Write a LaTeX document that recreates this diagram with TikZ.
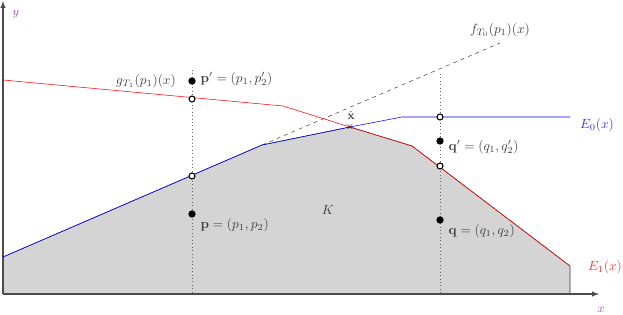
\documentclass[tikz,border=0pt]{standalone}
\usepackage{amsmath,amssymb}
\usepackage{tikz}
\newdimen\unitsize
\setlength{\unitsize}{0.75pt}

\begin{document}
\begin{tikzpicture}[x=\unitsize,y=\unitsize,baseline=0]
\tikzset{dot/.style={circle,fill=black,inner sep=0pt,minimum size=5.5pt}}%
\tikzset{hole/.style={circle,draw=black,fill=white,thick,inner sep=0pt,minimum size=4.5pt}}%
\tikzset{lbl/.style={text=black!75}}%
\tikzset{axis/.style={black!70,thick,-latex}}%
\useasboundingbox (-3,-20) rectangle (620,294);
% the set K
\fill[black!17] (0,0) -- (0,37) -- (259,149) -- (347,167) -- (409,148) -- (567,28) -- (567,0) -- cycle;
\draw[black!80] (0,37) -- (259,149) -- (347,167) -- (409,148) -- (567,28) -- (567,0);
% axes
\draw[axis] (0,0) -- (596,0);
\draw[axis] (0,0) -- (0,293);
\node[violet!70, font=\small] (xlab) at (598,-16) {$x$};
\node[violet!70, font=\small] (ylab) at (13,280) {$y$};
% dotted verticals
\coordinate (ptop) at (189,224);
\coordinate (pbot) at (189,0);
\coordinate (qtop) at (437,220);
\coordinate (qbot) at (437,0);
\draw[dotted, black!60, semithick] (ptop) -- (pbot);
\draw[dotted, black!60, semithick] (qtop) -- (qbot);
% tangent line
\coordinate (fa) at (259,149);
\coordinate (fb) at (497,251);
\draw[dashed, black!70] (fa) -- (fb);
\node[lbl] (flab) at (497,264) {$f_{T_0}(p_1)(x)$};
% E_0 and E_1
\draw[blue] (0,37) -- (259,149) -- (347,167) -- (399,177) -- (567,177);
\draw[red] (0,214) -- (280,188) -- (347,167) -- (409,148) -- (567,28);
\node[blue!80] (e0lab) at (594,169) {$E_0(x)$};
\node[red!80] (e1lab) at (602,27) {$E_1(x)$};
\node[lbl] (glab) at (143,213) {$g_{T_1}(p_1)(x)$};
\node[lbl] (klab) at (325,84) {$K$};
% the point x hat
\node[inner sep=0pt, font=\scriptsize] (xhat) at (347,167) {$\times$};
\node[lbl, font=\small, anchor=south] (xhatlab) at (348,170) {$\hat{\mathbf{x}}$};
% points p, p'
\node[dot] (pp) at (189,213) {};
\node[hole] (pg) at (189,195) {};
\node[hole] (pe) at (189,118) {};
\node[dot] (p) at (189,80) {};
\node[lbl, anchor=west] (pplab) at (193,215) {$\mathbf{p}'=(p_1,p_2')$};
\node[lbl, anchor=west] (plab) at (193,69) {$\mathbf{p}=(p_1,p_2)$};
% points q, q'
\node[hole] (qe) at (437,177) {};
\node[dot] (qq) at (437,153) {};
\node[hole] (qg) at (437,128) {};
\node[dot] (q) at (437,74) {};
\node[lbl, anchor=west] (qqlab) at (441,147) {$\mathbf{q}'=(q_1,q_2')$};
\node[lbl, anchor=west] (qlab) at (441,63) {$\mathbf{q}=(q_1,q_2)$};
\end{tikzpicture}
\end{document}
